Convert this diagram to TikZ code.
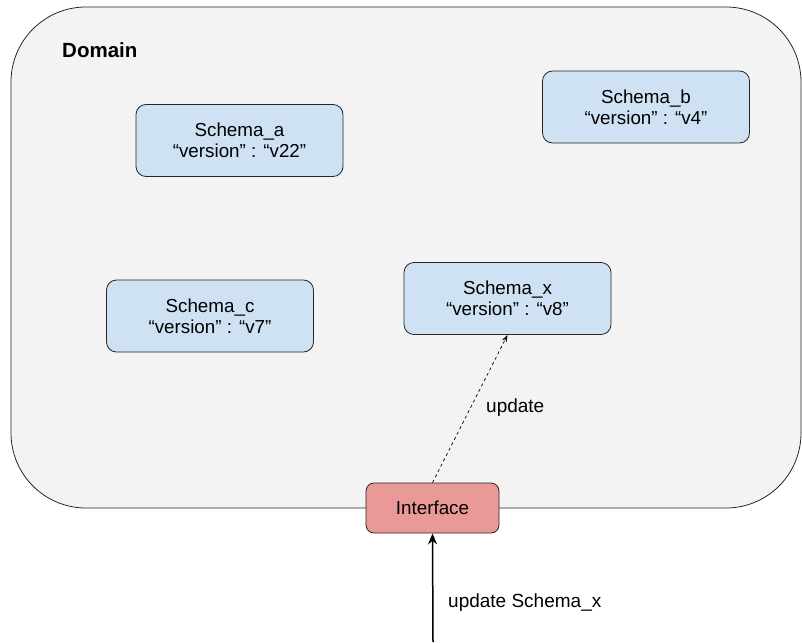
\documentclass[tikz,border=0pt]{standalone}
\usepackage{fontspec}
\setmainfont{Liberation Sans}
\usetikzlibrary{arrows.meta}
\definecolor{schemafill}{HTML}{CFE2F3}
\definecolor{iffill}{HTML}{EA9999}
\definecolor{domfill}{HTML}{F3F3F3}
\begin{document}
\begin{tikzpicture}[x=1pt,y=-1pt,
  schemabox/.style={draw=black!85, fill=schemafill, rounded corners=10pt, minimum width=207pt, minimum height=72pt, align=center, font=\fontsize{18.8}{21}\selectfont, inner sep=0pt, line width=0.8pt},
  ifbox/.style={draw=black!85, fill=iffill, rounded corners=8pt, minimum width=133pt, minimum height=50pt, font=\fontsize{18.8}{21}\selectfont, inner sep=0pt, line width=0.8pt},
  lbl/.style={font=\fontsize{19}{21}\selectfont, anchor=west, inner sep=0pt}]
\useasboundingbox (0,0) rectangle (802,642);
\draw[draw=black!85, fill=domfill, line width=0.8pt, rounded corners=75pt] (11,7) rectangle (801,508);
\node[font=\bfseries\fontsize{20.5}{24}\selectfont, anchor=west, inner sep=0pt] (dom) at (62,50) {Domain};
\node[schemabox] (a) at (239.5,140.5) {Schema\_a\\“version” : “v22”};
\node[schemabox] (b) at (646,107) {Schema\_b\\“version” : “v4”};
\node[schemabox] (c) at (210,316) {Schema\_c\\“version” : “v7”};
\node[schemabox] (x) at (507.5,298.5) {Schema\_x\\“version” : “v8”};
\node[ifbox] (if) at (432.5,508) {Interface};
\coordinate (src) at (433,642);
\draw[dashed, line width=0.7pt, -{Stealth[length=7pt,width=5pt]}] (if.north) -- (x.south);
\node[lbl] (u1) at (486,408) {update};
\draw[line width=1.5pt, -{Stealth[length=11pt,width=9pt]}] (src) -- (if.south);
\node[lbl] (u2) at (448,603) {update Schema\_x};
\end{tikzpicture}
\end{document}
